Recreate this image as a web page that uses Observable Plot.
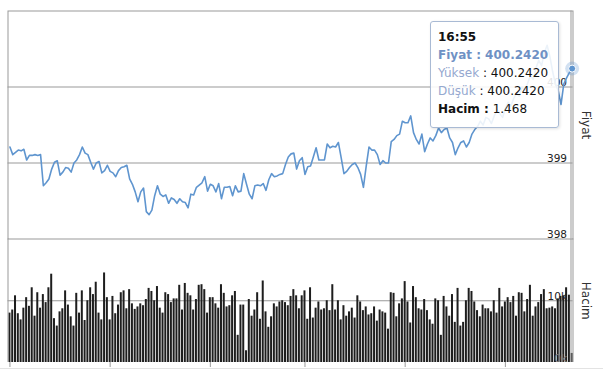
<!DOCTYPE html>
<html><head><meta charset="utf-8">
<script src="https://cdn.jsdelivr.net/npm/d3@7"></script>
<script src="https://cdn.jsdelivr.net/npm/@observablehq/plot@0.6"></script>
<style>
html,body{margin:0;padding:0;background:#fff;}
#wrap{position:relative;width:603px;height:378px;overflow:hidden;font-family:"DejaVu Sans",Verdana,sans-serif;}
#wrap svg{position:absolute;left:0;overflow:visible;}
#base{position:absolute;left:0;top:368px;width:603px;border-top:1px solid #e3e3e3;}
#tip{position:absolute;left:430px;top:21px;width:113px;height:92px;padding:6px 7px 7px 7px;
 background:rgba(255,255,255,0.88);border:1px solid #a9bad4;border-radius:3px;
 box-shadow:1px 1px 3px rgba(0,0,0,0.12);font-size:12px;line-height:18px;color:#111;white-space:nowrap;}
#tip b{font-weight:bold}
.lbl{color:#95a8cf}
.main{color:#6f91c4;font-weight:bold}
</style></head><body><div id="wrap"></div>
<script>
const prices=[399.21,399.11,399.14,399.17,399.16,399.18,399.04,399.10,399.10,399.11,399.10,399.11,398.70,398.74,398.79,398.92,399.01,399.03,398.84,398.88,
398.94,398.93,398.88,399.00,399.04,399.11,399.21,399.13,399.11,399.01,398.92,399.00,399.02,398.87,398.90,398.97,398.89,398.87,398.82,398.90,
398.94,398.95,398.97,398.79,398.72,398.62,398.49,398.62,398.67,398.36,398.32,398.38,398.57,398.70,398.59,398.56,398.58,398.47,398.54,398.52,
398.47,398.53,398.49,398.48,398.41,398.59,398.58,398.68,398.71,398.74,398.82,398.63,398.72,398.70,398.62,398.73,398.53,398.68,398.68,398.69,
398.57,398.70,398.62,398.63,398.86,398.72,398.59,398.53,398.70,398.71,398.70,398.73,398.64,398.78,398.86,398.82,398.83,398.85,398.86,398.98,
399.08,399.12,399.13,398.92,399.03,399.07,398.85,398.95,398.96,399.08,399.20,399.04,399.04,399.04,399.25,399.20,399.22,399.21,399.27,399.07,
398.86,398.89,398.94,398.98,399.00,398.94,398.85,398.68,398.96,399.21,399.17,399.17,399.11,398.98,399.03,399.00,399.00,399.28,399.31,399.36,
399.38,399.55,399.53,399.53,399.62,399.40,399.31,399.25,399.38,399.15,399.25,399.33,399.29,399.36,399.46,399.40,399.44,399.46,399.33,399.27,
399.11,399.20,399.27,399.29,399.21,399.27,399.38,399.44,399.48,399.55,399.50,399.60,399.58,399.52,399.62,399.70,399.65,399.60,399.72,399.80,
399.75,399.85,399.92,399.88,400.00,399.95,400.05,400.15,400.10,400.25,400.35,400.28,400.45,400.55,400.40,400.20,400.04,399.95,399.77,400.04,
400.12,400.19,400.242];
const volumes=[8.0,8.5,10.8,7.9,6.9,8.8,10.5,9.1,12.1,7.5,11.3,8.8,11.0,9.7,12.1,14.3,7.1,5.9,8.2,8.7,
11.6,9.3,7.4,5.9,11.2,8.0,11.6,6.8,10.0,12.1,11.0,13.0,8.0,6.9,14.5,10.5,6.9,10.7,7.9,9.3,
11.3,11.6,8.7,11.8,9.5,8.6,9.0,9.5,9.2,10.2,12.0,11.5,10.0,12.3,8.8,8.0,11.3,11.0,9.7,10.3,
10.3,12.5,8.5,12.8,11.2,10.8,8.5,10.2,12.5,12.6,11.8,8.0,10.5,10.5,9.5,8.8,12.6,11.2,9.0,9.2,
10.8,11.5,4.4,9.3,9.3,1.9,10.2,7.5,8.5,11.3,7.0,13.2,8.2,5.7,7.4,9.5,9.0,9.8,10.0,9.7,
9.2,10.7,11.8,10.8,8.7,10.8,11.6,7.0,12.1,7.2,8.8,9.8,8.5,8.7,10.0,8.4,12.6,8.5,10.0,6.9,
9.2,7.5,8.2,8.8,7.2,10.8,9.8,8.4,9.0,7.7,7.9,9.0,6.7,8.5,8.2,8.0,5.4,11.3,11.2,7.4,
9.5,10.3,13.1,9.8,6.4,12.3,10.5,8.7,8.5,10.2,8.4,6.9,6.2,10.3,10.0,4.4,10.7,9.0,7.5,11.0,
6.5,12.0,5.9,6.5,10.0,12.0,11.5,9.8,8.4,7.4,9.3,8.7,8.7,8.2,10.0,8.0,12.0,9.0,9.8,10.5,
9.7,10.7,7.5,11.3,11.2,8.2,10.2,12.5,7.5,9.0,9.7,11.0,11.8,8.7,8.8,9.0,8.7,10.3,10.7,10.8,
12.1,10.9,1.468];
const priceTicks=[398,399,400];
const volumeTicks=[0,10];
const timeTicks=[0,36,72,106,142,178];
const tipTime="16:55", tipFiyat="400.2420", tipYuksek="400.2420", tipDusuk="400.2420", tipHacim="1.468";

const n=prices.length;
const xDomain=[-0.7,n-1+0.3];
const gridColor="#999";
const lineColor="#5f95cf";
const font="DejaVu Sans, Verdana, sans-serif";
const last=[{i:n-1,p:prices[n-1]}];

const pricePlot=Plot.plot({
  width:603,height:239,marginTop:10.5,marginBottom:0.5,marginLeft:7.5,marginRight:30.5,
  style:{fontFamily:font,background:"transparent"},
  x:{domain:xDomain,axis:null},
  y:{domain:[398,401],axis:null},
  marks:[
    Plot.ruleY(priceTicks.slice(1),{stroke:gridColor,strokeOpacity:1}),
    Plot.frame({stroke:gridColor}),
    Plot.ruleX([xDomain[1]],{stroke:gridColor,dx:-2}),
    Plot.text(priceTicks,{y:d=>d,text:d=>String(d),frameAnchor:"right",textAnchor:"end",lineAnchor:"bottom",dx:-6,dy:-1,fontSize:10.5,fill:"#222"}),
    Plot.line(prices,{x:(d,i)=>i,y:d=>d,stroke:lineColor,strokeWidth:1.6,strokeLinejoin:"round"}),
    Plot.dot(last,{x:"i",y:"p",r:7,fill:lineColor,fillOpacity:0.28,stroke:"none"}),
    Plot.dot(last,{x:"i",y:"p",r:3.5,fill:lineColor,stroke:"#fff",strokeWidth:1}),
    Plot.text(["Fiyat"],{text:d=>d,frameAnchor:"right",textAnchor:"middle",rotate:90,dx:13,fontSize:12,fill:"#333"})
  ]
});
pricePlot.style.top="0px";

const volPlot=Plot.plot({
  width:603,height:140,marginTop:0.5,marginBottom:16,marginLeft:7.5,marginRight:30.5,
  style:{fontFamily:font,background:"transparent"},
  x:{domain:xDomain,axis:null},
  y:{domain:[0,20],axis:null},
  marks:[
    Plot.ruleY(volumeTicks.slice(1),{stroke:gridColor}),
    Plot.rect(volumes,{x1:(d,i)=>i-0.36,x2:(d,i)=>i+0.36,y1:0,y2:d=>d,fill:"#1e1e1e",stroke:"none"}),
    Plot.text(volumeTicks,{y:d=>d,text:d=>d+"k",frameAnchor:"right",textAnchor:"end",lineAnchor:"bottom",dx:-6,dy:-1,fontSize:10.5,fill:d=>d===0?"#777":"#222"}),
    Plot.ruleX([xDomain[0],xDomain[1]],{stroke:gridColor}),
    Plot.ruleX([xDomain[1]],{stroke:gridColor,dx:-2}),
    Plot.axisX({ticks:timeTicks,tickSize:5,tickFormat:()=>"",stroke:gridColor}),
    Plot.text(["Hacim"],{text:d=>d,frameAnchor:"right",textAnchor:"middle",rotate:90,dx:13,fontSize:12,fill:"#333"})
  ]
});
volPlot.style.top="238px";

const wrap=document.getElementById("wrap");
wrap.appendChild(pricePlot);
wrap.appendChild(volPlot);
const base=document.createElement("div");base.id="base";wrap.appendChild(base);
const tip=document.createElement("div");tip.id="tip";
tip.innerHTML=`<b>${tipTime}</b><br><span class="main">Fiyat : ${tipFiyat}</span><br><span class="lbl">Yüksek</span> : ${tipYuksek}<br><span class="lbl">Düşük</span> : ${tipDusuk}<br><b>Hacim :</b> ${tipHacim}`;
wrap.appendChild(tip);
</script></body></html>
